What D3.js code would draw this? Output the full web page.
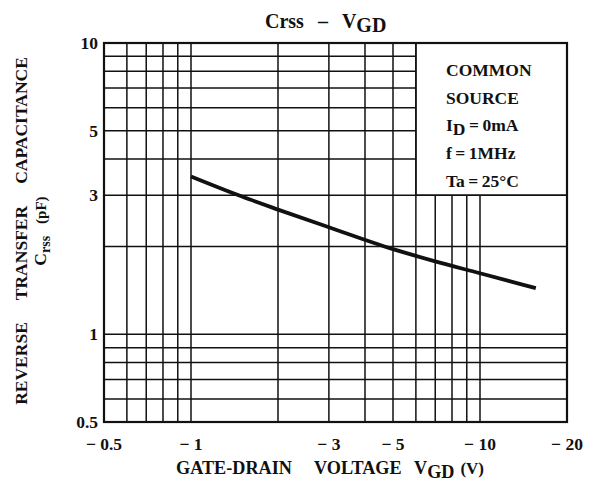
<!DOCTYPE html>
<html>
<head>
<meta charset="utf-8">
<script src="https://cdn.jsdelivr.net/npm/d3@7"></script>
<style>
  body { margin: 0; background: #fff; }
  text { font-family: "Liberation Serif", "Times New Roman", serif; font-weight: bold; fill: #111; }
</style>
</head>
<body>
<div id="chart"></div>
<script>
// curve data: |VGD| (V) vs Crss (pF)
var vgd = [1, 1.5, 2, 3, 5, 7, 10, 15.6];
var crss = [3.48, 2.97, 2.68, 2.33, 1.96, 1.78, 1.62, 1.44];

// grid lines and tick labels
var xGrid = [0.6, 0.7, 0.8, 0.9, 1, 2, 3, 4, 5, 6, 7, 8, 9, 10];
var yGrid = [0.6, 0.7, 0.8, 0.9, 1, 2, 3, 4, 5, 6, 7, 8, 9];
var xTicks = [0.5, 1, 3, 5, 10, 20];
var yTicks = [0.5, 1, 3, 5, 10];
var notes = ["COMMON", "SOURCE", "I_D\u2009=\u20090mA", "f\u2009=\u20091MHz", "Ta\u2009=\u200925\u00b0C"];

var W = 593, H = 488;
var margin = {top: 43, right: 26, bottom: 66, left: 104};
var fs = 17.5;

var svg = d3.select("#chart").append("svg")
    .attr("width", W)
    .attr("height", H);

var x = d3.scaleLog().domain([0.5, 20]).range([margin.left, W - margin.right]);
var y = d3.scaleLog().domain([0.5, 10]).range([H - margin.bottom, margin.top]);

// legend box corner (grid stops there)
var boxX = 6, boxY = 3;

// vertical grid
svg.append("g").selectAll("line")
  .data(xGrid)
  .enter().append("line")
    .attr("x1", function(d){ return x(d); })
    .attr("x2", function(d){ return x(d); })
    .attr("y1", function(d){ return d > boxX ? y(boxY) : y(10); })
    .attr("y2", y(0.5))
    .attr("stroke", "#111")
    .attr("stroke-width", 1.5);

// horizontal grid
svg.append("g").selectAll("line")
  .data(yGrid)
  .enter().append("line")
    .attr("y1", function(d){ return y(d); })
    .attr("y2", function(d){ return y(d); })
    .attr("x1", x(0.5))
    .attr("x2", function(d){ return d > boxY ? x(boxX) : x(20); })
    .attr("stroke", "#111")
    .attr("stroke-width", 1.5);

// legend box edges
svg.append("path")
  .attr("d", "M" + x(boxX) + "," + y(10) + "V" + y(boxY) + "H" + x(20))
  .attr("fill", "none")
  .attr("stroke", "#111")
  .attr("stroke-width", 1.5);

// frame
svg.append("rect")
  .attr("x", x(0.5))
  .attr("y", y(10))
  .attr("width", x(20) - x(0.5))
  .attr("height", y(0.5) - y(10))
  .attr("fill", "none")
  .attr("stroke", "#111")
  .attr("stroke-width", 2.2);

// the curve
var line = d3.line()
  .x(function(d, i){ return x(vgd[i]); })
  .y(function(d, i){ return y(crss[i]); })
  .curve(d3.curveMonotoneX);

svg.append("path")
  .datum(crss)
  .attr("d", line)
  .attr("fill", "none")
  .attr("stroke", "#111")
  .attr("stroke-width", 3.8);

// x tick labels
svg.append("g").selectAll("text")
  .data(xTicks)
  .enter().append("text")
    .attr("x", function(d){ return x(d); })
    .attr("y", 450)
    .attr("text-anchor", "middle")
    .attr("font-size", fs)
    .text(function(d){ return "\u2212 " + d; });

// y tick labels
svg.append("g").selectAll("text")
  .data(yTicks)
  .enter().append("text")
    .attr("x", margin.left - 6)
    .attr("y", function(d){ return y(d) + 6; })
    .attr("text-anchor", "end")
    .attr("font-size", fs)
    .text(function(d){ return d; });

// legend text
var lg = svg.append("g");
notes.forEach(function(s, i){
  var t = lg.append("text")
    .attr("x", 446)
    .attr("y", 76 + i * 27.7)
    .attr("font-size", fs);
  if (s.indexOf("_") >= 0) {
    var p = s.split("_");
    t.append("tspan").text(p[0]);
    t.append("tspan").attr("dy", 4).text(p[1].slice(0, 1));
    t.append("tspan").attr("dy", -4).text(p[1].slice(1));
  } else {
    t.text(s);
  }
});

// title
var title = svg.append("text")
  .attr("x", 265)
  .attr("y", 28)
  .attr("font-size", 20);
title.append("tspan").text("Crss");
title.append("tspan").attr("dx", 14).text("\u2013");
title.append("tspan").attr("dx", 14).text("V");
title.append("tspan").attr("dy", 4).text("GD");

// x axis title
var xt = svg.append("text")
  .attr("y", 474)
  .attr("font-size", 18.2);
xt.append("tspan").attr("x", 176).text("GATE-DRAIN");
xt.append("tspan").attr("x", 314).text("VOLTAGE");
xt.append("tspan").attr("x", 414).text("V");
xt.append("tspan").attr("dy", 4).text("GD");
xt.append("tspan").attr("dy", -4).attr("dx", 6).attr("font-size", 17).text("(V)");

// y axis title
var yc = 231;
var ya = svg.append("text")
  .attr("transform", "translate(27," + yc + ") rotate(-90)")
  .attr("text-anchor", "middle")
  .attr("font-size", fs);
ya.append("tspan").text("REVERSE");
ya.append("tspan").attr("dx", 22).text("TRANSFER");
ya.append("tspan").attr("dx", 22).text("CAPACITANCE");

var yt = svg.append("text")
  .attr("transform", "translate(46," + yc + ") rotate(-90)")
  .attr("text-anchor", "middle")
  .attr("font-size", fs);
yt.append("tspan").text("C");
yt.append("tspan").attr("dy", 4).attr("font-size", 14).text("rss");
yt.append("tspan").attr("dy", -4).attr("dx", 12).attr("font-size", 15).text("(pF)");
</script>
</body>
</html>
